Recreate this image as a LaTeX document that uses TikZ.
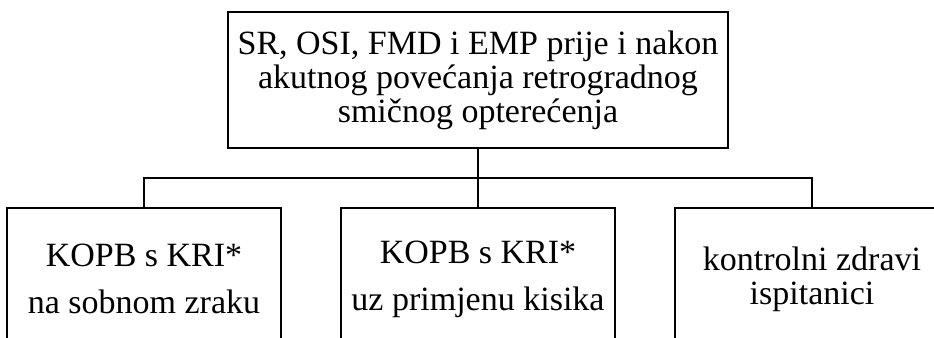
\documentclass[tikz,border=0pt]{standalone}
\usepackage{fontspec}
\setmainfont{Liberation Serif}
\usepackage{tikz}
\usetikzlibrary{positioning,calc}

\begin{document}
\begin{tikzpicture}[
    x=0.5pt, y=-0.5pt,
    node distance=29pt and 29pt,
    box/.style={draw, line width=1pt, align=center, inner sep=0pt,
      font=\fontsize{17}{17}\selectfont},
    topbox/.style={box, minimum width=250pt, minimum height=68pt},
    groupbox/.style={box, minimum width=137pt, minimum height=71pt},
    link/.style={line width=1pt}
  ]
    \path[use as bounding box, clip] (0,0) rectangle (934,338);

    \node[topbox] (study) at (478,80)
      {SR, OSI, FMD i EMP prije i nakon\\akutnog povećanja retrogradnog\\smičnog opterećenja};

    \node[groupbox, below=of study] (oxygen) {KOPB s KRI*\\[6.5pt]uz primjenu kisika};
    \node[groupbox, left=of oxygen] (air) {KOPB s KRI*\\[6.5pt]na sobnom zraku};
    \node[groupbox, right=of oxygen] (healthy) {kontrolni zdravi\\ispitanici};

    % bus between the levels
    \coordinate (bus) at ($(study.south)!0.5!(oxygen.north)$);
    \draw[link] (study) -- (oxygen);
    \draw[link] (air.north) |- (bus) -| (healthy.north);
  \end{tikzpicture}
\end{document}
